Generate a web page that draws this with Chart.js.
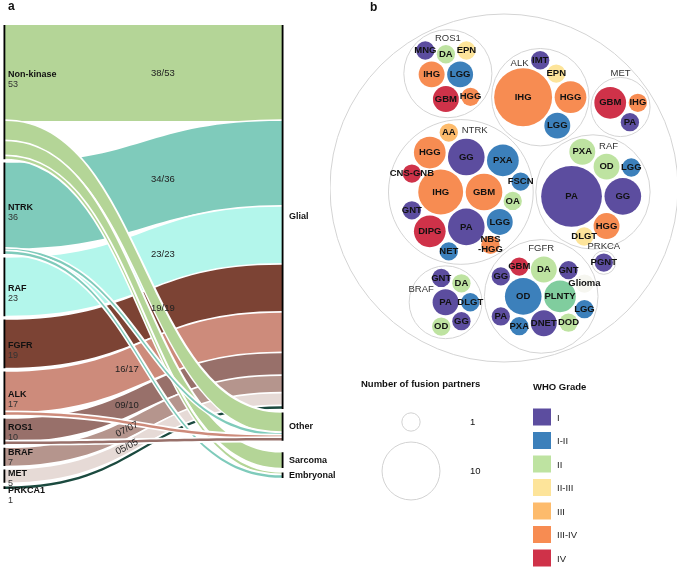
<!DOCTYPE html>
<html>
<head>
<meta charset="utf-8">
<script src="https://cdn.jsdelivr.net/npm/chart.js@4.4.1/dist/chart.umd.min.js"></script>
<style>
  body { margin: 0; background: #fff; }
  #wrap { position: relative; width: 677px; height: 568px; overflow: hidden; }
  canvas { position: absolute; top: 0; }
</style>
</head>
<body>
<div id="wrap">
  <canvas id="sankey" width="340" height="568" style="left:0"></canvas>
  <canvas id="pack" width="347" height="568" style="left:330px"></canvas>
</div>
<script>
const FONT = '"Liberation Sans", Arial, Helvetica, sans-serif';

// ---- panel a: fusion class -> tumour type ----
const sourceNodes = ['Non-kinase', 'NTRK', 'RAF', 'FGFR', 'ALK', 'ROS1', 'BRAF', 'MET', 'PRKCA1'];
const sourceCases = [53, 36, 23, 19, 17, 10, 7, 5, 1];
const targetNodes = ['Glial', 'Other', 'Sarcoma', 'Embryonal'];
const linkFrom  = ['Non-kinase', 'Non-kinase', 'Non-kinase', 'Non-kinase', 'NTRK', 'NTRK', 'NTRK', 'RAF', 'FGFR', 'ALK', 'ALK', 'ROS1', 'ROS1', 'BRAF', 'MET', 'PRKCA1'];
const linkTo    = ['Glial', 'Other', 'Sarcoma', 'Embryonal', 'Glial', 'Other', 'Embryonal', 'Glial', 'Glial', 'Glial', 'Other', 'Glial', 'Other', 'Glial', 'Glial', 'Glial'];
const linkCases = [38, 8, 6, 1, 34, 1, 1, 23, 19, 16, 1, 9, 1, 7, 5, 1];

// ---- panel b: diagnoses per fusion gene ----
const packGenes = ['NTRK', 'RAF', 'FGFR', 'ALK', 'ROS1', 'BRAF', 'MET', 'PRKCA'];
const ntrkDx    = ['IHG', 'GBM', 'PA', 'GG', 'HGG', 'DIPG', 'PXA', 'LGG', 'GNT', 'CNS-GNB', 'OA', 'FSCN', 'NET', 'AA', 'NBS-HGG'];
const ntrkCases = [6, 4, 4, 4, 3, 3, 3, 2, 1, 1, 1, 1, 1, 1, 1];
const ntrkGrade = ['III-IV', 'III-IV', 'I', 'I', 'III-IV', 'IV', 'I-II', 'I-II', 'I', 'IV', 'II', 'I-II', 'I-II', 'III', 'III-IV'];
const rafDx     = ['PA', 'GG', 'HGG', 'OD', 'PXA', 'DLGT', 'LGG'];
const rafCases  = [11, 4, 2, 2, 2, 1, 1];
const rafGrade  = ['I', 'I', 'III-IV', 'II', 'II', 'II-III', 'I-II'];
const fgfrDx    = ['OD', 'PLNTY', 'DNET', 'DA', 'GBM', 'PXA', 'GNT', 'DOD', 'PA', 'GG', 'Glioma', 'LGG'];
const fgfrCases = [4, 3, 2, 2, 1, 1, 1, 1, 1, 1, 1, 1];
const fgfrGrade = ['I-II', 'none', 'I', 'II', 'IV', 'I-II', 'I', 'II', 'I', 'I', 'NA', 'I-II'];
const alkDx     = ['IHG', 'HGG', 'LGG', 'EPN', 'IMT'];
const alkCases  = [10, 3, 2, 1, 1];
const alkGrade  = ['III-IV', 'III-IV', 'I-II', 'II-III', 'I'];
const ros1Dx    = ['IHG', 'LGG', 'GBM', 'DA', 'MNG', 'EPN', 'HGG'];
const ros1Cases = [2, 2, 2, 1, 1, 1, 1];
const ros1Grade = ['III-IV', 'I-II', 'IV', 'II', 'I', 'II-III', 'III-IV'];
const brafDx    = ['PA', 'DLGT', 'GG', 'DA', 'GNT', 'OD'];
const brafCases = [2, 1, 1, 1, 1, 1];
const brafGrade = ['I', 'I-II', 'I', 'II', 'I', 'II'];
const metDx     = ['GBM', 'IHG', 'PA'];
const metCases  = [3, 1, 1];
const metGrade  = ['IV', 'III-IV', 'I'];
const prkcaDx    = ['PGNT'];
const prkcaCases = [1];
const prkcaGrade = ['I'];

const gradeNames = ['I', 'I-II', 'II', 'II-III', 'III', 'III-IV', 'IV'];

// styles
const sourceColors = ['#b4d597', '#7fcbbb', '#b3f6eb', '#7c4334', '#cd8b7b', '#98706a', '#b5958d', '#e6dad6', '#1b4a3f'];
const gradeColors = ['#5c4d9f', '#3c80bb', '#bee3a1', '#fde49a', '#fdbb6c', '#f78c52', '#cf3249'];
const extraColors = { none: '#80cd9e', NA: '#f6f6f0' };

// layout of panel a (in cases)
const nodeGap = 1.6;
const targetGaps = [1.6, 4.75, 2];
const ratioLabelAt = [0.57, 0.57, 0.57, 0.57, 0.44, 0.44, 0.44, 0.44, 0.44];

// ---- sankey layout ----
const srcY = {};
let acc = 0;
sourceNodes.forEach((n, i) => {
  srcY[n] = { y0: acc, y1: acc + sourceCases[i] };
  acc += sourceCases[i] + nodeGap;
});
const leftSpan = acc - nodeGap;

const targetCases = targetNodes.map(t =>
  linkTo.reduce((s, to, k) => s + (to === t ? linkCases[k] : 0), 0));
const tgtY = {};
acc = 0;
targetNodes.forEach((n, i) => {
  if (i) acc += targetGaps[i - 1];
  tgtY[n] = { y0: acc, y1: acc + targetCases[i] };
  acc += targetCases[i];
});

const links = linkFrom.map((f, k) => ({
  from: f, to: linkTo[k], v: linkCases[k],
  si: sourceNodes.indexOf(f), ti: targetNodes.indexOf(linkTo[k])
}));
const outAcc = {}, inAcc = {};
links.slice().sort((a, b) => a.si - b.si || a.ti - b.ti).forEach(l => {
  const o = outAcc[l.from] || 0;
  l.sy = srcY[l.from].y0 + o;
  outAcc[l.from] = o + l.v;
});
links.slice().sort((a, b) => a.ti - b.ti || a.si - b.si).forEach(l => {
  const o = inAcc[l.to] || 0;
  l.ty = tgtY[l.to].y0 + o;
  inAcc[l.to] = o + l.v;
});

const nodeBars = sourceNodes.map(n => ({ x: 0, y: [srcY[n].y0, srcY[n].y1] }))
  .concat(targetNodes.map(n => ({ x: 1, y: [tgtY[n].y0, tgtY[n].y1] })));

const BAR = 3;
const pad2 = v => String(v).padStart(2, '0');

function flowGeom(chart, l) {
  const { x, y } = chart.scales;
  const x0 = x.getPixelForValue(0) + BAR / 2, x1 = x.getPixelForValue(1) - BAR / 2;
  return {
    x0, x1, xm: (x0 + x1) / 2,
    a0: y.getPixelForValue(l.sy), a1: y.getPixelForValue(l.sy + l.v),
    b0: y.getPixelForValue(l.ty), b1: y.getPixelForValue(l.ty + l.v)
  };
}

const sankeyFlows = {
  id: 'sankeyFlows',
  beforeDatasetsDraw(chart) {
    const ctx = chart.ctx;
    // flows into Glial first, the rest on top
    const order = links.slice().sort((a, b) => (a.ti > 0) - (b.ti > 0));
    ctx.save();
    order.forEach(l => {
      const g = flowGeom(chart, l);
      ctx.beginPath();
      ctx.moveTo(g.x0, g.a0);
      ctx.bezierCurveTo(g.xm, g.a0, g.xm, g.b0, g.x1, g.b0);
      ctx.lineTo(g.x1, g.b1);
      ctx.bezierCurveTo(g.xm, g.b1, g.xm, g.a1, g.x0, g.a1);
      ctx.closePath();
      ctx.lineWidth = 3.5;
      ctx.strokeStyle = '#fff';
      ctx.stroke();
      ctx.fillStyle = sourceColors[l.si];
      ctx.fill();
    });
    ctx.restore();
  },
  afterDatasetsDraw(chart) {
    const ctx = chart.ctx;
    const { x, y } = chart.scales;
    ctx.save();
    ctx.textBaseline = 'middle';

    // ratio labels on the glial flows
    ctx.fillStyle = '#222';
    ctx.font = '9.5px ' + FONT;
    ctx.textAlign = 'center';
    links.forEach(l => {
      if (l.ti !== 0 || sourceCases[l.si] < 2) return;
      const g = flowGeom(chart, l);
      const f = ratioLabelAt[l.si];
      let lo = 0, hi = 1, s = 0.5;
      for (let it = 0; it < 30; it++) {
        s = (lo + hi) / 2;
        const fx = 1.5 * s - 1.5 * s * s + s * s * s;
        if (fx < f) lo = s; else hi = s;
      }
      const ya = (g.a0 + g.a1) / 2, yb = (g.b0 + g.b1) / 2;
      const px = g.x0 + (g.x1 - g.x0) * f;
      const py = ya + (yb - ya) * (3 * s * s - 2 * s * s * s);
      ctx.save();
      ctx.translate(px, py);
      if (g.a1 - g.a0 < 20) {
        const ddx = (g.x1 - g.x0) * (1.5 - 3 * s + 3 * s * s);
        const ddy = (yb - ya) * (6 * s - 6 * s * s);
        ctx.rotate(Math.atan2(ddy, ddx));
      }
      ctx.fillText(pad2(l.v) + '/' + pad2(sourceCases[l.si]), 0, 0);
      ctx.restore();
    });

    // source labels
    ctx.textAlign = 'left';
    const lx = x.getPixelForValue(0) + BAR / 2 + 3;
    sourceNodes.forEach((n, i) => {
      const top = y.getPixelForValue(srcY[n].y0), bot = y.getPixelForValue(srcY[n].y1);
      let ly;
      if (bot - top > 30) {
        const big = links.filter(l => l.si === i).sort((a, b) => b.v - a.v)[0];
        ly = (y.getPixelForValue(big.sy) + y.getPixelForValue(big.sy + big.v)) / 2 + 2;
      } else {
        ly = Math.max((top + bot) / 2 - 4, top + 4);
      }
      ctx.fillStyle = '#111';
      ctx.font = 'bold 9px ' + FONT;
      ctx.fillText(n, lx, ly);
      ctx.fillStyle = '#333';
      ctx.font = '9px ' + FONT;
      ctx.fillText(String(sourceCases[i]), lx, ly + 10);
    });

    // target labels
    const rx = x.getPixelForValue(1) + BAR / 2 + 4;
    ctx.fillStyle = '#111';
    ctx.font = 'bold 9px ' + FONT;
    targetNodes.forEach(n => {
      const c = (y.getPixelForValue(tgtY[n].y0) + y.getPixelForValue(tgtY[n].y1)) / 2;
      ctx.fillText(n, rx, c);
    });

    ctx.font = 'bold 12px ' + FONT;
    ctx.fillText('a', 8, 7);
    ctx.restore();
  }
};

new Chart(document.getElementById('sankey'), {
  type: 'bar',
  data: {
    datasets: [{
      data: nodeBars,
      backgroundColor: '#000',
      borderWidth: 0,
      barThickness: BAR
    }]
  },
  options: {
    responsive: false,
    animation: false,
    events: [],
    layout: { autoPadding: false, padding: { left: 3.5, right: 56.5, top: 25, bottom: 79 } },
    scales: {
      x: { type: 'linear', min: 0, max: 1, offset: false, display: false },
      y: { type: 'linear', min: 0, max: leftSpan, reverse: true, display: false }
    },
    plugins: { legend: { display: false }, tooltip: { enabled: false } }
  },
  plugins: [sankeyFlows]
});

// ---- circle packing (port of d3.pack front-chain) ----
function placeCircle(b, a, c) {
  const dx = b.x - a.x, dy = b.y - a.y, d2 = dx * dx + dy * dy;
  if (d2) {
    let a2 = a.r + c.r; a2 *= a2;
    let b2 = b.r + c.r; b2 *= b2;
    if (a2 > b2) {
      const x = (d2 + b2 - a2) / (2 * d2);
      const y = Math.sqrt(Math.max(0, b2 / d2 - x * x));
      c.x = b.x - x * dx - y * dy;
      c.y = b.y - x * dy + y * dx;
    } else {
      const x = (d2 + a2 - b2) / (2 * d2);
      const y = Math.sqrt(Math.max(0, a2 / d2 - x * x));
      c.x = a.x + x * dx - y * dy;
      c.y = a.y + x * dy + y * dx;
    }
  } else {
    c.x = a.x + c.r;
    c.y = a.y;
  }
}

function intersects(a, b) {
  const dr = a.r + b.r - 1e-6, dx = b.x - a.x, dy = b.y - a.y;
  return dr > 0 && dr * dr > dx * dx + dy * dy;
}

function score(node) {
  const a = node._, b = node.next._, ab = a.r + b.r;
  const dx = (a.x * b.r + b.x * a.r) / ab, dy = (a.y * b.r + b.y * a.r) / ab;
  return dx * dx + dy * dy;
}

function enclosesNot(a, b) {
  const dr = a.r - b.r, dx = b.x - a.x, dy = b.y - a.y;
  return dr < 0 || dr * dr < dx * dx + dy * dy;
}
function enclosesWeak(a, b) {
  const dr = a.r - b.r + Math.max(a.r, b.r, 1) * 1e-9, dx = b.x - a.x, dy = b.y - a.y;
  return dr > 0 && dr * dr > dx * dx + dy * dy;
}
function enclosesWeakAll(a, B) {
  return B.every(b => enclosesWeak(a, b));
}
function encloseBasis2(a, b) {
  const x21 = b.x - a.x, y21 = b.y - a.y, r21 = b.r - a.r, l = Math.sqrt(x21 * x21 + y21 * y21);
  return { x: (a.x + b.x + x21 / l * r21) / 2, y: (a.y + b.y + y21 / l * r21) / 2, r: (l + a.r + b.r) / 2 };
}
function encloseBasis3(a, b, c) {
  const x1 = a.x, y1 = a.y, r1 = a.r, x2 = b.x, y2 = b.y, r2 = b.r, x3 = c.x, y3 = c.y, r3 = c.r;
  const a2 = x1 - x2, a3 = x1 - x3, b2 = y1 - y2, b3 = y1 - y3, c2 = r2 - r1, c3 = r3 - r1;
  const d1 = x1 * x1 + y1 * y1 - r1 * r1;
  const d2 = d1 - x2 * x2 - y2 * y2 + r2 * r2;
  const d3 = d1 - x3 * x3 - y3 * y3 + r3 * r3;
  const ab = a3 * b2 - a2 * b3;
  const xa = (b2 * d3 - b3 * d2) / (ab * 2) - x1, xb = (b3 * c2 - b2 * c3) / ab;
  const ya = (a3 * d2 - a2 * d3) / (ab * 2) - y1, yb = (a2 * c3 - a3 * c2) / ab;
  const A = xb * xb + yb * yb - 1, B = 2 * (r1 + xa * xb + ya * yb), C = xa * xa + ya * ya - r1 * r1;
  const r = -(Math.abs(A) > 1e-6 ? (B + Math.sqrt(B * B - 4 * A * C)) / (2 * A) : C / B);
  return { x: x1 + xa + xb * r, y: y1 + ya + yb * r, r };
}
function encloseBasis(B) {
  if (B.length === 1) return { x: B[0].x, y: B[0].y, r: B[0].r };
  if (B.length === 2) return encloseBasis2(B[0], B[1]);
  return encloseBasis3(B[0], B[1], B[2]);
}
function extendBasis(B, p) {
  if (enclosesWeakAll(p, B)) return [p];
  for (let i = 0; i < B.length; ++i) {
    if (enclosesNot(p, B[i]) && enclosesWeakAll(encloseBasis2(B[i], p), B)) return [B[i], p];
  }
  for (let i = 0; i < B.length - 1; ++i) {
    for (let j = i + 1; j < B.length; ++j) {
      if (enclosesNot(encloseBasis2(B[i], B[j]), p)
          && enclosesNot(encloseBasis2(B[i], p), B[j])
          && enclosesNot(encloseBasis2(B[j], p), B[i])
          && enclosesWeakAll(encloseBasis3(B[i], B[j], p), B)) {
        return [B[i], B[j], p];
      }
    }
  }
  return [p];
}
function enclose(circles) {
  let i = 0, B = [], e = null;
  while (i < circles.length) {
    const p = circles[i];
    if (e && enclosesWeak(e, p)) ++i;
    else { B = extendBasis(B, p); e = encloseBasis(B); i = 0; }
  }
  return e;
}

function packSiblings(circles) {
  const n = circles.length;
  if (!n) return 0;
  let a = circles[0], b, c;
  a.x = 0; a.y = 0;
  if (n === 1) return a.r;
  b = circles[1];
  a.x = -b.r; b.x = a.r; b.y = 0;
  if (n === 2) return a.r + b.r;
  placeCircle(b, a, c = circles[2]);
  a = { _: a }; b = { _: b }; c = { _: c };
  a.next = c.previous = b;
  b.next = a.previous = c;
  c.next = b.previous = a;
  pack: for (let i = 3; i < n; ++i) {
    placeCircle(a._, b._, c = circles[i]);
    c = { _: c };
    let j = b.next, k = a.previous, sj = b._.r, sk = a._.r;
    do {
      if (sj <= sk) {
        if (intersects(j._, c._)) {
          b = j; a.next = b; b.previous = a; --i;
          continue pack;
        }
        sj += j._.r; j = j.next;
      } else {
        if (intersects(k._, c._)) {
          a = k; a.next = b; b.previous = a; --i;
          continue pack;
        }
        sk += k._.r; k = k.previous;
      }
    } while (j !== k.next);
    c.previous = a; c.next = b; a.next = b.previous = b = c;
    let aa = score(a);
    while ((c = c.next) !== b) {
      const ca = score(c);
      if (ca < aa) { a = c; aa = ca; }
    }
    b = a.next;
  }
  const chain = [b._];
  c = b;
  while ((c = c.next) !== b) chain.push(c._);
  const e = enclose(chain);
  circles.forEach(o => { o.x -= e.x; o.y -= e.y; });
  return e.r;
}

function eachBefore(node, fn) { fn(node); (node.children || []).forEach(ch => eachBefore(ch, fn)); }
function eachAfter(node, fn) { (node.children || []).forEach(ch => eachAfter(ch, fn)); fn(node); }

function packChildren(padding, k) {
  return node => {
    if (!node.children) return;
    const r = padding * k;
    if (r) node.children.forEach(ch => { ch.r += r; });
    const e = packSiblings(node.children);
    if (r) node.children.forEach(ch => { ch.r -= r; });
    node.r = e + r;
  };
}

// pack into a circle of the given diameter (pixels); returns px per sqrt(case)
function packLayout(root, size, padding) {
  root.x = 0; root.y = 0;
  eachBefore(root, nd => { if (!nd.children) nd.r = Math.sqrt(nd.value); });
  eachAfter(root, packChildren(0, 1));
  eachAfter(root, packChildren(padding, root.r / size));
  const k = size / (2 * root.r);
  eachBefore(root, nd => {
    nd.r *= k;
    if (nd.parent) { nd.x = nd.parent.x + k * nd.x; nd.y = nd.parent.y + k * nd.y; }
  });
  return k;
}

const geneTables = {
  NTRK: [ntrkDx, ntrkCases, ntrkGrade],
  RAF: [rafDx, rafCases, rafGrade],
  FGFR: [fgfrDx, fgfrCases, fgfrGrade],
  ALK: [alkDx, alkCases, alkGrade],
  ROS1: [ros1Dx, ros1Cases, ros1Grade],
  BRAF: [brafDx, brafCases, brafGrade],
  MET: [metDx, metCases, metGrade],
  PRKCA: [prkcaDx, prkcaCases, prkcaGrade]
};

const packRoot = { children: [] };
packGenes.forEach(gene => {
  const [dx, n, gr] = geneTables[gene];
  const g = { name: gene, parent: packRoot, children: [] };
  dx.forEach((d, i) => g.children.push({ name: d, value: n[i], grade: gr[i], parent: g }));
  g.value = g.children.reduce((s, c) => s + c.value, 0);
  g.children.sort((a, b) => b.value - a.value);
  packRoot.children.push(g);
});
packRoot.children.sort((a, b) => b.value - a.value);
packRoot.value = packRoot.children.reduce((s, c) => s + c.value, 0);

const PACK_R = 174;                 // outer circle radius, px
const PACK_CX = 174, PACK_CY = 188;  // outer circle centre on the right canvas
const pxPerRootCase = packLayout(packRoot, PACK_R * 2, 3);

const leafPoints = [];
const ringPoints = [{ x: packRoot.x, y: packRoot.y, r: packRoot.r, name: '' }];
packRoot.children.forEach(g => {
  ringPoints.push({ x: g.x, y: g.y, r: g.r, name: g.name, kids: g.children });
  g.children.forEach(c => leafPoints.push({ x: c.x, y: c.y, r: c.r, name: c.name, grade: c.grade }));
});

function gradeColor(grade) {
  const i = gradeNames.indexOf(grade);
  return i >= 0 ? gradeColors[i] : (extraColors[grade] || '#ddd');
}

const wrapLabels = { 'NBS-HGG': ['NBS', '-HGG'] };

// slide a group label along the top of its ring until it clears the member circles;
// if the ring is too tight, sit the label just above it
function groupLabelSpot(p, w) {
  const h = 8, inset = 9;
  let best = null;
  for (let step = 0; step <= 12; step++) {
    for (const side of [-1, 1]) {
      if (!step && side > 0) continue;
      const ang = -Math.PI / 2 + side * step * 0.11;
      const cx = p.x + Math.cos(ang) * (p.r - inset);
      const cy = p.y + Math.sin(ang) * (p.r - inset);
      let hit = 0;
      p.kids.forEach(c => {
        const nx = Math.min(Math.max(c.x, cx - w / 2), cx + w / 2);
        const ny = Math.min(Math.max(c.y, cy - h / 2), cy + h / 2);
        const d = Math.hypot(c.x - nx, c.y - ny);
        if (d < c.r) hit += c.r - d;
      });
      if (hit === 0) return { x: cx, y: cy };
      if (!best || hit < best.hit) best = { x: cx, y: cy, hit };
    }
  }
  return { x: p.x, y: p.y - p.r - 4 };
}

const packLabels = {
  id: 'packLabels',
  afterDatasetsDraw(chart) {
    const ctx = chart.ctx;
    const { x, y } = chart.scales;
    ctx.save();
    ctx.textAlign = 'center';
    ctx.textBaseline = 'middle';

    const leaves = chart.getDatasetMeta(0).data;
    ctx.fillStyle = '#111';
    ctx.font = 'bold 9.5px ' + FONT;
    leaves.forEach((el, i) => {
      const p = leafPoints[i];
      const lines = wrapLabels[p.name] || [p.name];
      lines.forEach((t, j) => ctx.fillText(t, el.x, el.y + (j - (lines.length - 1) / 2) * 10));
    });

    ctx.fillStyle = '#333';
    ctx.font = '9.5px ' + FONT;
    ringPoints.forEach(p => {
      if (!p.name) return;
      const spot = groupLabelSpot(p, ctx.measureText(p.name).width);
      ctx.fillText(p.name, x.getPixelForValue(spot.x), y.getPixelForValue(spot.y));
    });
    ctx.restore();
  },
  afterDraw(chart) {
    const ctx = chart.ctx;
    ctx.save();
    ctx.textBaseline = 'middle';
    ctx.fillStyle = '#111';

    ctx.font = 'bold 12px ' + FONT;
    ctx.fillText('b', 40, 8);

    // size legend
    ctx.font = 'bold 9.5px ' + FONT;
    ctx.fillText('Number of fusion partners', 31, 384);
    ctx.strokeStyle = '#d2d2d2';
    ctx.lineWidth = 1;
    ctx.font = '9.5px ' + FONT;
    [[1, 422], [10, 471]].forEach(([v, cy]) => {
      const r = pxPerRootCase * Math.sqrt(v);
      ctx.beginPath();
      ctx.arc(81, cy, r, 0, Math.PI * 2);
      ctx.stroke();
      ctx.fillText(String(v), 140, cy);
    });

    // WHO grade legend
    ctx.font = 'bold 9.5px ' + FONT;
    ctx.fillText('WHO Grade', 203, 387);
    ctx.font = '9.5px ' + FONT;
    gradeNames.forEach((g, i) => {
      const cy = 417 + i * 23.5;
      ctx.fillStyle = gradeColors[i];
      ctx.fillRect(203, cy - 8.5, 18, 17);
      ctx.fillStyle = '#222';
      ctx.fillText(g, 227, cy + 1);
    });
    ctx.restore();
  }
};

new Chart(document.getElementById('pack'), {
  type: 'bubble',
  data: {
    datasets: [{
      label: 'cases',
      data: leafPoints,
      backgroundColor: c => (c.raw ? gradeColor(c.raw.grade) : '#ccc'),
      borderWidth: 0,
      clip: false
    }, {
      label: 'groups',
      data: ringPoints,
      backgroundColor: 'rgba(0,0,0,0)',
      borderColor: '#d4d4d4',
      borderWidth: 1,
      clip: false
    }]
  },
  options: {
    responsive: false,
    animation: false,
    events: [],
    layout: { autoPadding: false, padding: 0 },
    scales: {
      x: { type: 'linear', min: -PACK_CX, max: 347 - PACK_CX, display: false },
      y: { type: 'linear', min: -PACK_CY, max: 568 - PACK_CY, reverse: true, display: false }
    },
    plugins: { legend: { display: false }, tooltip: { enabled: false } }
  },
  plugins: [packLabels]
});
</script>
</body>
</html>
